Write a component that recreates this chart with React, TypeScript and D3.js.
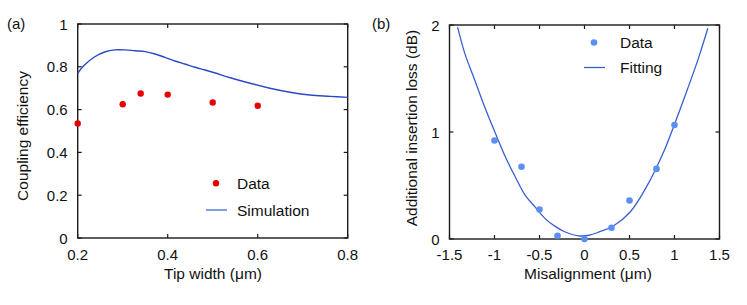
import { useRef, useEffect } from "react";
import * as d3 from "d3";

// panel (a): coupling efficiency vs tip width
const tipWidth = [0.2, 0.3, 0.34, 0.4, 0.5, 0.6];
const coupling = [0.535, 0.625, 0.675, 0.67, 0.633, 0.618];
const simWidth = [0.2, 0.215, 0.238, 0.26, 0.283, 0.305, 0.327, 0.35, 0.372, 0.394, 0.416, 0.438, 0.461, 0.483, 0.504, 0.539, 0.583, 0.627, 0.672, 0.716, 0.761, 0.8];
const simEff = [0.77, 0.808, 0.847, 0.869, 0.879, 0.879, 0.875, 0.871, 0.86, 0.844, 0.827, 0.813, 0.798, 0.785, 0.772, 0.749, 0.723, 0.7, 0.681, 0.668, 0.662, 0.657];
const aTicksX = [0.2, 0.4, 0.6, 0.8];
const aTicksY = [0, 0.2, 0.4, 0.6, 0.8, 1];

// panel (b): additional loss vs misalignment
const misalign = [-1, -0.7, -0.5, -0.3, 0, 0.3, 0.5, 0.8, 1];
const lossData = [0.92, 0.675, 0.275, 0.03, 0, 0.105, 0.36, 0.655, 1.065];
const fitX = [-1.41, -1.33, -1.22, -1.11, -0.99, -0.88, -0.77, -0.66, -0.55, -0.44, -0.33, -0.22, -0.07, 0.05, 0.17, 0.32, 0.51, 0.69, 0.88, 0.99, 1.14, 1.27, 1.37];
const fitY = [1.98, 1.735, 1.486, 1.236, 0.988, 0.769, 0.582, 0.411, 0.3, 0.193, 0.12, 0.068, 0.03, 0.035, 0.068, 0.121, 0.255, 0.489, 0.816, 1.05, 1.39, 1.7, 1.97];
const bTicksX = [-1.5, -1, -0.5, 0, 0.5, 1, 1.5];
const bTicksY = [0, 1, 2];

const FONT = "Liberation Sans, Arial, sans-serif";

function drawPanel(g, opt) {
  const { x, y, ticksX, ticksY, label, xTitle, yTitle, yTitleX, yTitleY, xTitleX } = opt;
  const [x0, x1] = x.range();
  const [y0, y1] = y.range();

  // tick labels
  g.selectAll(".xt")
    .data(ticksX)
    .enter()
    .append("text")
    .attr("x", (d) => x(d))
    .attr("y", 260)
    .attr("font-size", 15)
    .attr("text-anchor", "middle")
    .text((d) => String(d));
  g.selectAll(".yt")
    .data(ticksY)
    .enter()
    .append("text")
    .attr("x", x0 - 10)
    .attr("y", (d) => y(d) + 5.5)
    .attr("font-size", 15)
    .attr("text-anchor", "end")
    .text((d) => String(d));

  // inward ticks on all four sides
  const tl = 4;
  ticksX.forEach((t) => {
    g.append("line").attr("x1", x(t)).attr("x2", x(t)).attr("y1", y0).attr("y2", y0 - tl);
    g.append("line").attr("x1", x(t)).attr("x2", x(t)).attr("y1", y1).attr("y2", y1 + tl);
  });
  ticksY.forEach((t) => {
    g.append("line").attr("x1", x0).attr("x2", x0 + tl).attr("y1", y(t)).attr("y2", y(t));
    g.append("line").attr("x1", x1).attr("x2", x1 - tl).attr("y1", y(t)).attr("y2", y(t));
  });
  g.selectAll("line").attr("stroke", "#1a1a1a").attr("stroke-width", 1.2);

  g.append("rect")
    .attr("x", x0)
    .attr("y", y1)
    .attr("width", x1 - x0)
    .attr("height", y0 - y1)
    .attr("fill", "none")
    .attr("stroke", "#1a1a1a")
    .attr("stroke-width", 1.4);

  g.append("text").attr("x", xTitleX).attr("y", 279).attr("text-anchor", "middle").text(xTitle);
  g.append("text")
    .attr("transform", `translate(${yTitleX},${yTitleY}) rotate(-90)`)
    .attr("text-anchor", "middle")
    .attr("dy", "0.35em")
    .text(yTitle);
  g.append("text").attr("x", label.x).attr("y", 29).attr("font-size", 15).text(label.t);
}

export default function App() {
  const svgRef = useRef(null);

  useEffect(() => {
    const svg = d3.select(svgRef.current);
    svg.selectAll("*").remove();
    svg.attr("font-family", FONT).attr("font-size", 15.5).attr("fill", "#111");

    // ---- (a)
    const xa = d3.scaleLinear().domain([0.2, 0.8]).range([77.7, 347.7]);
    const ya = d3.scaleLinear().domain([0, 1]).range([238, 24]);
    const ga = svg.append("g");
    drawPanel(ga, {
      x: xa, y: ya, ticksX: aTicksX, ticksY: aTicksY,
      label: { x: 7, t: "(a)" },
      xTitle: "Tip width (μm)", xTitleX: 213,
      yTitle: "Coupling efficiency", yTitleX: 23, yTitleY: 136,
    });
    const simLine = d3
      .line()
      .x((d) => xa(d[0]))
      .y((d) => ya(d[1]))
      .curve(d3.curveCatmullRom.alpha(0.5));
    ga.append("path")
      .datum(simWidth.map((w, i) => [w, simEff[i]]))
      .attr("d", simLine)
      .attr("fill", "none")
      .attr("stroke", "#2b48c6")
      .attr("stroke-width", 1.4);
    ga.selectAll(".pt")
      .data(tipWidth)
      .enter()
      .append("circle")
      .attr("cx", (d) => xa(d))
      .attr("cy", (d, i) => ya(coupling[i]))
      .attr("r", 3.2)
      .attr("fill", "#e60000");
    // legend (a)
    ga.append("circle").attr("cx", 216).attr("cy", 183.3).attr("r", 3.2).attr("fill", "#e60000");
    ga.append("text").attr("x", 237).attr("y", 188.8).text("Data");
    ga.append("line").attr("x1", 206).attr("x2", 227).attr("y1", 210).attr("y2", 210)
      .attr("stroke", "#4a74dc").attr("stroke-width", 1.4);
    ga.append("text").attr("x", 237).attr("y", 215.5).text("Simulation");

    // ---- (b)
    const xb = d3.scaleLinear().domain([-1.5, 1.5]).range([449.5, 719.5]);
    const yb = d3.scaleLinear().domain([0, 2]).range([239, 25]);
    const gb = svg.append("g");
    drawPanel(gb, {
      x: xb, y: yb, ticksX: bTicksX, ticksY: bTicksY,
      label: { x: 372, t: "(b)" },
      xTitle: "Misalignment (μm)", xTitleX: 588,
      yTitle: "Additional insertion loss (dB)", yTitleX: 411.5, yTitleY: 128,
    });
    const fitLine = d3
      .line()
      .x((d) => xb(d[0]))
      .y((d) => yb(d[1]))
      .curve(d3.curveCatmullRom.alpha(0.5));
    gb.append("path")
      .datum(fitX.map((v, i) => [v, fitY[i]]))
      .attr("d", fitLine)
      .attr("fill", "none")
      .attr("stroke", "#3a5fcf")
      .attr("stroke-width", 1.3);
    gb.selectAll(".pt")
      .data(misalign)
      .enter()
      .append("circle")
      .attr("cx", (d) => xb(d))
      .attr("cy", (d, i) => yb(lossData[i]))
      .attr("r", 3.3)
      .attr("fill", "#5b8ff5");
    // legend (b)
    gb.append("circle").attr("cx", 594).attr("cy", 42.5).attr("r", 3.3).attr("fill", "#5b8ff5");
    gb.append("text").attr("x", 620).attr("y", 48).text("Data");
    gb.append("line").attr("x1", 584).attr("x2", 605).attr("y1", 67.5).attr("y2", 67.5)
      .attr("stroke", "#3a5fcf").attr("stroke-width", 1.3);
    gb.append("text").attr("x", 620).attr("y", 73).text("Fitting");
  }, []);

  return (
    <svg
      ref={svgRef}
      width={747}
      height={305}
      style={{ position: "absolute", left: 0, top: 0, background: "white" }}
    ></svg>
  );
}
